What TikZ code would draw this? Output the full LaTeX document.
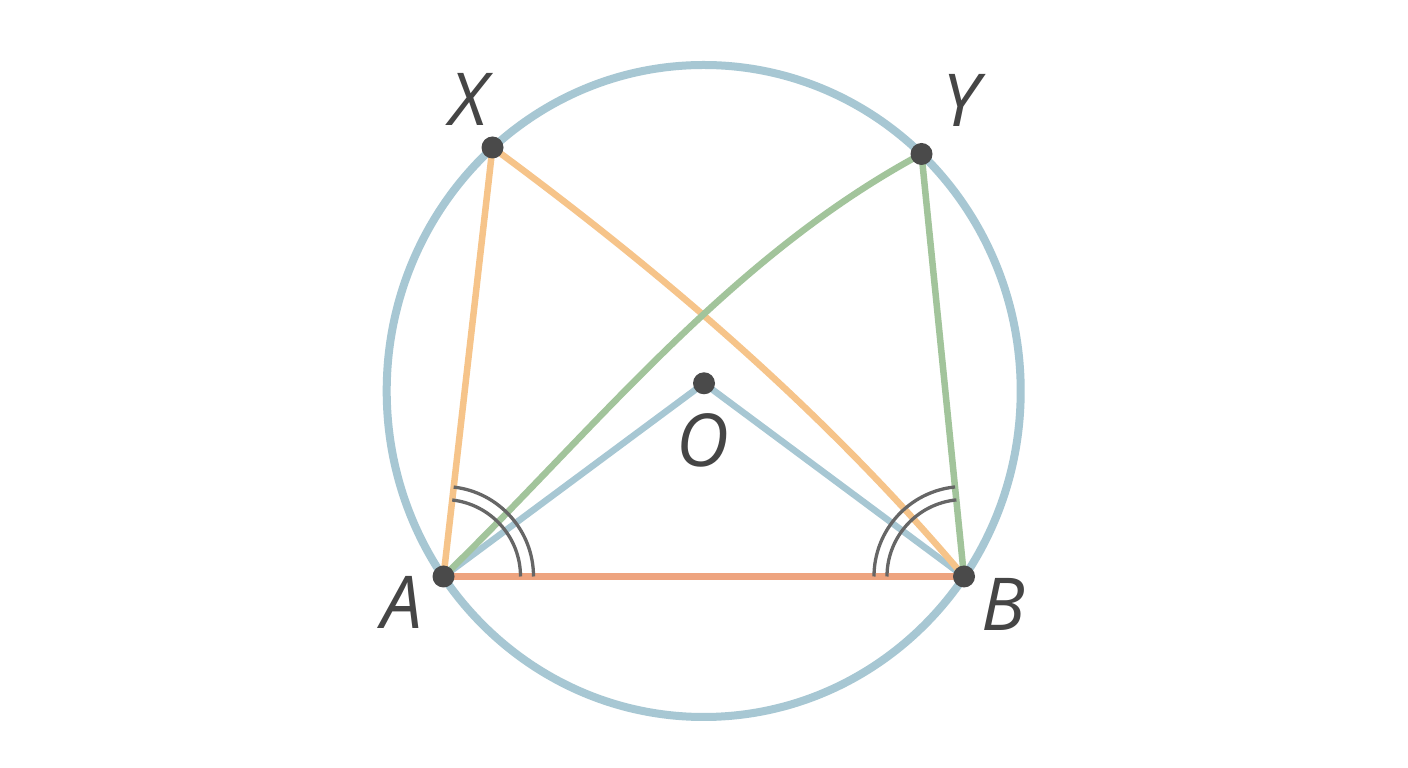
\documentclass[tikz,border=0pt]{standalone}
\usepackage{fontspec}
\setmainfont{Open Sans}
\definecolor{circblue}{HTML}{A7C7D3}
\definecolor{chordorange}{HTML}{F6C48A}
\definecolor{chordgreen}{HTML}{A2C49B}
\definecolor{basesalmon}{HTML}{EEA47F}
\definecolor{dotgray}{HTML}{4A4A4A}
\definecolor{arcgray}{HTML}{666666}
\definecolor{labelgray}{HTML}{454545}
\begin{document}
\begin{tikzpicture}[x=1pt,y=1pt,
  circline/.style={draw=circblue,line width=8pt},
  bluechord/.style={draw=circblue,line width=6.5pt},
  orangechord/.style={draw=chordorange,line width=6.5pt},
  greenchord/.style={draw=chordgreen,line width=6.5pt},
  basechord/.style={draw=basesalmon,line width=6.5pt},
  anglemark/.style={draw=arcgray,line width=3.3pt},
  dot/.style={circle,fill=dotgray,inner sep=0pt,minimum size=22pt},
  ptlabel/.style={inner sep=0pt,text=labelgray,font=\fontsize{73}{73}\selectfont\itshape}]
\useasboundingbox (0,0) rectangle (1408,768);
\fill[white] (0,0) rectangle (1408,768);
% points
\coordinate (C) at (703.7,377);
\coordinate (A) at (443.5,191.5);
\coordinate (B) at (964,191.5);
\coordinate (X) at (492.5,620.5);
\coordinate (Y) at (921.5,614);
\coordinate (O) at (704,384.7);
% circle
\draw[circline] (C) ellipse [x radius=317pt, y radius=326pt];
% chords
\draw[bluechord] (A) -- (O) -- (B);
\draw[orangechord] (A) -- (X);
\draw[orangechord] (X) .. controls (664.5,493.8) and (825.7,355.2) .. (B);
\draw[greenchord] (A) .. controls (596.2,339.8) and (729.1,510.6) .. (Y);
\draw[greenchord] (Y) -- (B);
\draw[basechord] (A) -- (B);
% angle marks
\draw[anglemark] (A) ++(77pt,0) arc[start angle=0,end angle=83.5,radius=77pt];
\draw[anglemark] (A) ++(90pt,0) arc[start angle=0,end angle=83.5,radius=90pt];
\draw[anglemark] (B) ++(-77pt,0) arc[start angle=180,end angle=95.7,radius=77pt];
\draw[anglemark] (B) ++(-90pt,0) arc[start angle=180,end angle=95.7,radius=90pt];
% dots
\node[dot] (dA) at (A) {};
\node[dot] (dB) at (B) {};
\node[dot] (dX) at (X) {};
\node[dot] (dY) at (Y) {};
\node[dot] (dO) at (O) {};
% labels
\node[ptlabel] (lX) at (469,669) {X};
\node[ptlabel] (lY) at (961,668) {Y};
\node[ptlabel] (lA) at (402,166) {A};
\node[ptlabel] (lB) at (1003,164) {B};
\node[ptlabel] (lO) at (703,327.5) {O};
\end{tikzpicture}
\end{document}
